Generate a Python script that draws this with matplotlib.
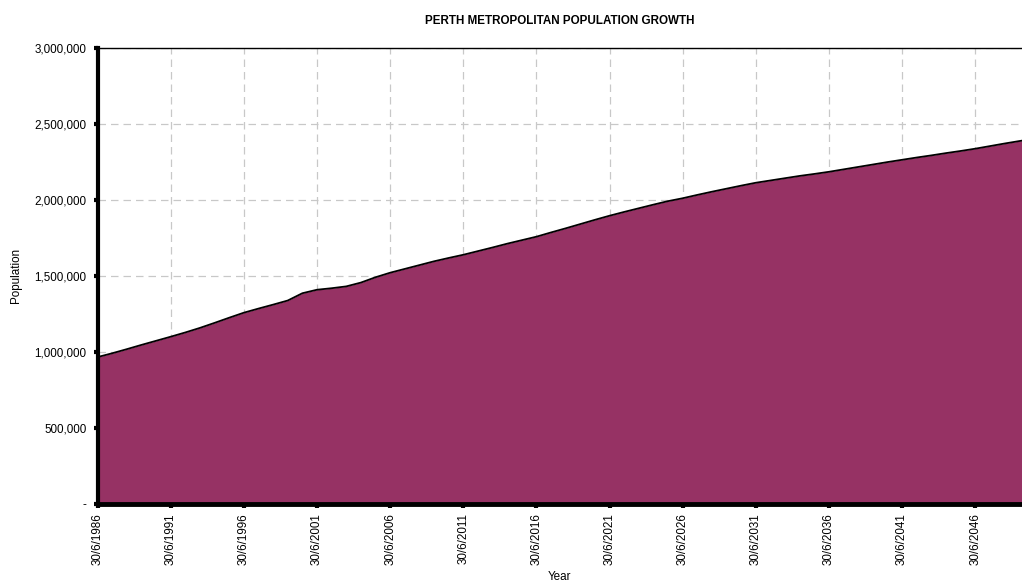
import matplotlib
matplotlib.use("Agg")
import matplotlib.pyplot as plt
from matplotlib.ticker import FuncFormatter

plt.rcParams['font.family'] = ['Liberation Sans', 'DejaVu Sans']

# Perth metropolitan population at 30 June each year (actual + projected)
years = list(range(1986, 2051))
population = [
    965000, 990000, 1017000, 1045000, 1072000,
    1099000, 1127000, 1157000, 1190000, 1224000,
    1257000, 1284000, 1310000, 1337000, 1385000,
    1408000, 1418000, 1430000, 1455000, 1490000,
    1520000, 1545000, 1570000, 1595000, 1617000,
    1638000, 1662000, 1686000, 1711000, 1734000,
    1757000, 1785000, 1812000, 1840000, 1868000,
    1895000, 1920000, 1944000, 1968000, 1991000,
    2010000, 2032000, 2053000, 2073000, 2093000,
    2112000, 2127000, 2142000, 2157000, 2170000,
    2184000, 2200000, 2216000, 2232000, 2248000,
    2263000, 2278000, 2292000, 2307000, 2321000,
    2336000, 2353000, 2370000, 2386000, 2402000,
]
tick_years = list(range(1986, 2050, 5))
tick_labels = [f"30/6/{y}" for y in tick_years]
y_ticks = [0, 500000, 1000000, 1500000, 2000000, 2500000, 3000000]

fig = plt.figure(figsize=(10.22, 5.83), dpi=100)
ax = fig.add_axes([0.0955, 0.136, 0.9045, 0.782])

ax.fill_between(years, population, 0, color='#963264', zorder=2, linewidth=0)
ax.plot(years, population, color='black', linewidth=1.3, zorder=3)

ax.set_xlim(1986, 2049.2)
ax.set_ylim(0, 3000000)
ax.set_xticks(tick_years)
ax.set_xticklabels(tick_labels, rotation=90, fontsize=8.4)
ax.set_yticks(y_ticks)
ax.yaxis.set_major_formatter(FuncFormatter(lambda v, p: '-' if v == 0 else f"{int(v):,}"))
ax.tick_params(axis='y', labelsize=8.4, length=3, width=3, pad=5)
ax.tick_params(axis='x', length=3, width=3, pad=4)

ax.grid(True, color='#c8c8c8', linestyle=(0, (6, 4)), linewidth=0.9, zorder=1)
ax.set_axisbelow(True)

ax.spines['left'].set_linewidth(3)
ax.spines['bottom'].set_linewidth(3.5)
ax.spines['top'].set_linewidth(1)
ax.spines['right'].set_visible(False)
for s in ax.spines.values():
    s.set_zorder(4)

ax.set_title('PERTH METROPOLITAN POPULATION GROWTH', fontsize=8.4,
             fontweight='bold', pad=17)
ax.set_ylabel('Population', fontsize=8.4)
ax.yaxis.set_label_coords(-0.082, 0.5)
ax.set_xlabel('Year', fontsize=8.4, labelpad=4)

fig.savefig('out.png', dpi=100)
